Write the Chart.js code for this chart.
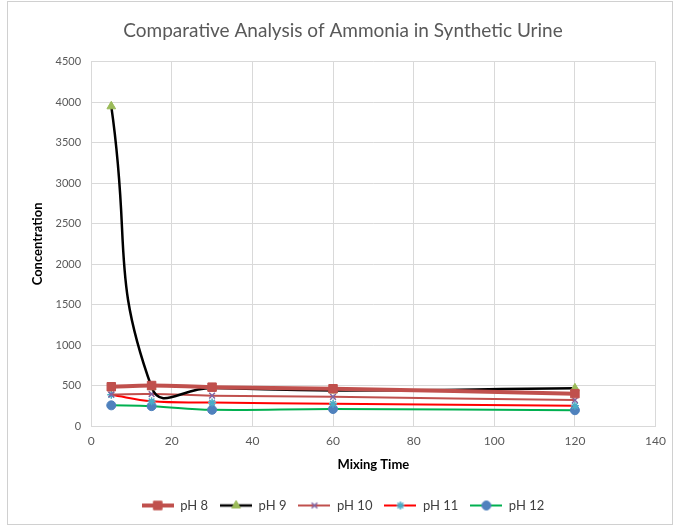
<!DOCTYPE html>
<html>
<head>
<meta charset="utf-8">
<script src="https://cdn.jsdelivr.net/npm/chart.js@4.4.0/dist/chart.umd.min.js"></script>
<style>
  body { margin: 0; background: #fff; }
  #frame { position: absolute; left: 7px; top: 1px; width: 664px; height: 522px; border: 1px solid #d0d0d0; }
  #wrap { position: absolute; left: 0; top: 0; width: 674px; height: 526px; }
</style>
</head>
<body>
<div id="frame"></div>
<div id="wrap"><canvas id="chart"></canvas></div>
<script>
// Mixing time (x) and concentration per pH
const mixingTime = [5, 15, 30, 60, 120];
const ph8 = [485, 500, 480, 460, 400];
const ph9 = [3950, 480, 470, 440, 465];
const ph10 = [390, 395, 375, 360, 320];
const ph11 = [385, 305, 290, 275, 250];
const ph12 = [255, 245, 200, 210, 195];

const seriesNames = ['pH 8', 'pH 9', 'pH 10', 'pH 11', 'pH 12'];
const seriesValues = [ph8, ph9, ph10, ph11, ph12];
const lineColors = ['#C0504D', '#000000', '#C0504D', '#FF0000', '#00B050'];
const lineWidths = [4, 2.5, 2, 2, 2];
const markerColors = ['#C0504D', '#9BBB59', '#8064A2', '#4BACC6', '#4F81BD'];
const markerStyles = ['rect', 'triangle', 'crossRot', 'star', 'circle'];
const markerSizes = [6, 5, 4, 4, 4.5];
const tensions = [0.4, 0.5, 0.4, 0.4, 0.4];

function toPoints(values) {
    return values.map((v, i) => ({ x: mixingTime[i], y: v }));
}

function thinMarker(i) {
    return markerStyles[i] === 'crossRot' || markerStyles[i] === 'star';
}

const datasets = seriesNames.map((name, i) => ({
    label: name,
    data: toPoints(seriesValues[i]),
    showLine: true,
    tension: tensions[i],
    borderColor: lineColors[i],
    borderWidth: lineWidths[i],
    pointStyle: markerStyles[i],
    pointRadius: markerSizes[i],
    pointBackgroundColor: markerColors[i],
    pointBorderColor: markerColors[i],
    pointBorderWidth: thinMarker(i) ? 1.5 : 1
}));

Chart.defaults.font.family = 'Lato, "Open Sans", sans-serif';
Chart.defaults.color = '#595959';

// legend swatch: line with the marker in the middle
function swatchFor(i) {
    const c = document.createElement('canvas');
    c.width = 32;
    c.height = 14;
    const g = c.getContext('2d');
    g.strokeStyle = lineColors[i];
    g.lineWidth = lineWidths[i];
    g.beginPath();
    g.moveTo(0, 7);
    g.lineTo(32, 7);
    g.stroke();
    g.fillStyle = markerColors[i];
    g.strokeStyle = markerColors[i];
    g.lineWidth = thinMarker(i) ? 1.5 : 1;
    Chart.helpers.drawPoint(g, { pointStyle: markerStyles[i], radius: markerSizes[i], borderWidth: g.lineWidth }, 16, 7);
    return c;
}

new Chart(document.getElementById('chart'), {
    type: 'scatter',
    data: { datasets: datasets },
    options: {
        responsive: true,
        maintainAspectRatio: false,
        animation: false,
        layout: { padding: { left: 30, right: 18, top: 11, bottom: 4 } },
        plugins: {
            title: {
                display: true,
                text: 'Comparative Analysis of Ammonia in Synthetic Urine',
                color: '#595959',
                font: { size: 19, weight: 'normal' },
                padding: { top: 8, bottom: 20 }
            },
            legend: {
                position: 'bottom',
                labels: {
                    usePointStyle: true,
                    pointStyleWidth: 32,
                    color: '#404040',
                    font: { size: 13 },
                    padding: 12,
                    generateLabels: function(chart) {
                        return chart.data.datasets.map((ds, i) => ({
                            text: ds.label,
                            pointStyle: swatchFor(i),
                            fillStyle: markerColors[i],
                            strokeStyle: lineColors[i],
                            lineWidth: 0,
                            hidden: false,
                            datasetIndex: i,
                            fontColor: '#404040'
                        }));
                    }
                }
            },
            tooltip: { enabled: false }
        },
        scales: {
            x: {
                type: 'linear',
                min: 0,
                max: 140,
                ticks: { stepSize: 20, color: '#595959', font: { size: 12 }, padding: 8 },
                grid: { color: '#d9d9d9', drawTicks: false },
                border: { color: '#d9d9d9' },
                title: {
                    display: true,
                    text: 'Mixing Time',
                    color: '#000000',
                    font: { size: 13, weight: 'bold' },
                    padding: { top: 1, bottom: 14 }
                }
            },
            y: {
                min: 0,
                max: 4500,
                ticks: {
                    stepSize: 500,
                    color: '#595959',
                    font: { size: 11 },
                    padding: 10,
                    callback: v => String(v)
                },
                grid: { color: '#d9d9d9', drawTicks: false },
                border: { color: '#d9d9d9' },
                title: {
                    display: true,
                    text: 'Concentration',
                    color: '#000000',
                    font: { size: 13, weight: 'bold' },
                    padding: { top: 0, bottom: 0 }
                }
            }
        }
    }
});
</script>
</body>
</html>
